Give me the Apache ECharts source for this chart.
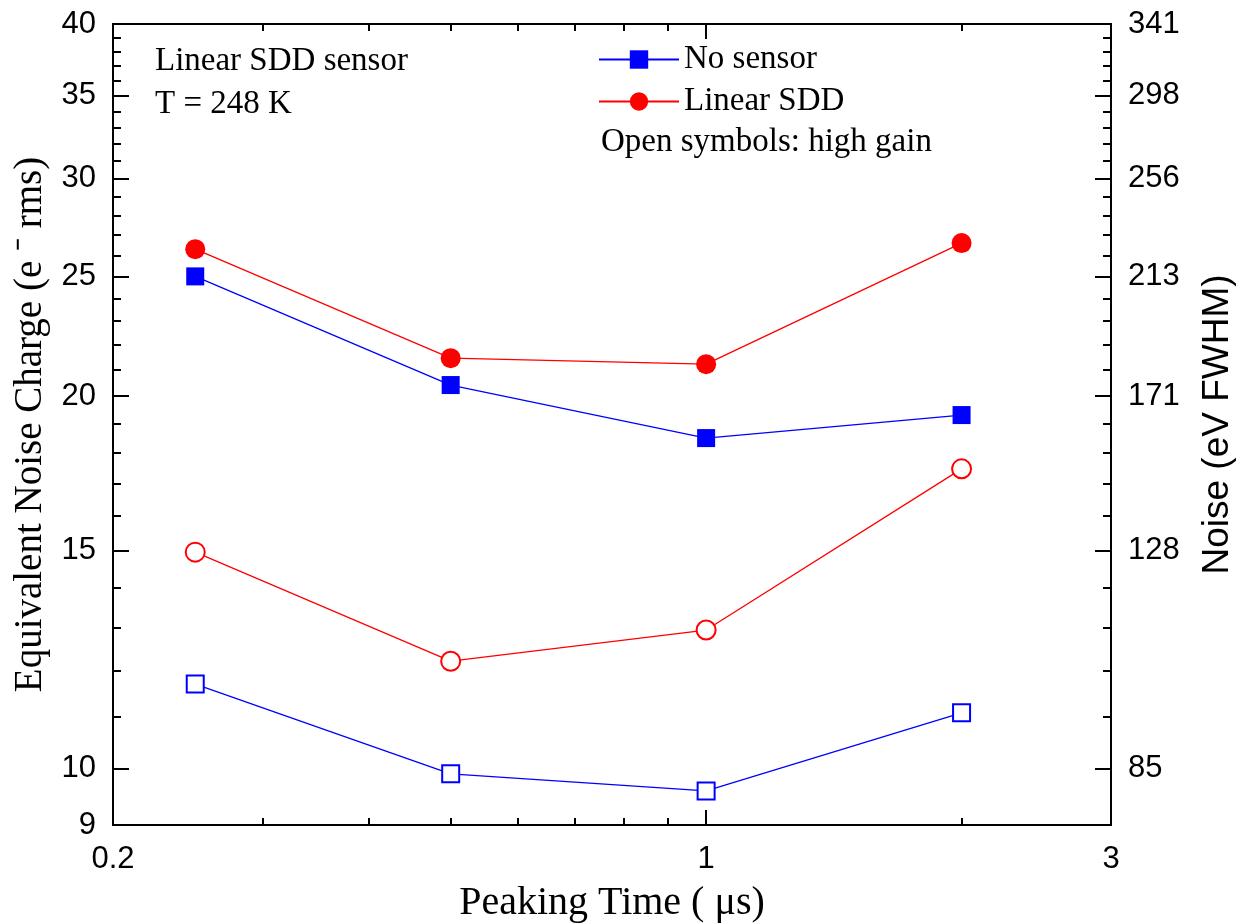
<!DOCTYPE html>
<html>
<head>
<meta charset="utf-8">
<script src="https://cdn.jsdelivr.net/npm/echarts@6/dist/echarts.min.js"></script>
<style>
html,body{margin:0;padding:0;background:#fff;}
#chart{width:1245px;height:924px;}
</style>
</head>
<body>
<div id="chart"></div>
<script>
// ---- data ----
const peakingTimes = [0.25, 0.5, 1, 2];
const noSensor = [25.0, 20.42, 18.5, 19.31];
const linearSDD = [26.3, 21.47, 21.23, 26.6];
const noSensorHighGain = [11.70, 9.90, 9.59, 11.09];
const linearSDDHighGain = [14.96, 12.21, 12.94, 17.47];

const xTickLabels = [0.2, 1, 3];
const xMajorTicks = [0.2, 1, 3];
const xMinorTicks = [0.3, 0.4, 0.5, 0.6, 0.7, 0.8, 0.9, 2];
const yTickLabels = [9, 10, 15, 20, 25, 30, 35, 40];
const yMajorTicks = [10, 15, 20, 25, 30, 35, 40];
const yMinorTicks = [11, 12, 13, 14, 16, 17, 18, 19, 21, 22, 23, 24, 26, 27, 28, 29, 31, 32, 33, 34, 36, 37, 38, 39];
const rightTickValues = [10, 15, 20, 25, 30, 35, 40];
const rightTickLabels = ['85', '128', '171', '213', '256', '298', '341'];

const xRange = [0.2, 3];
const yRange = [9, 40];

// ---- helpers ----
const L = v => Math.log10(v);
const pts = (xs, ys) => xs.map((x, i) => [L(x), L(ys[i])]);
function nearestLabel(v, vals, labels) {
  const real = Math.pow(10, v);
  let best = 0, bd = Infinity;
  vals.forEach((c, i) => { const d = Math.abs(c - real); if (d < bd) { bd = d; best = i; } });
  return String(labels[best]);
}

const serif = '"Liberation Serif", "Times New Roman", serif';
const sans = '"Liberation Sans", Arial, sans-serif';
const black = '#000';

function xAxisDef(pos, ticks, len, labels) {
  return {
    type: 'value', position: pos, min: L(xRange[0]), max: L(xRange[1]),
    splitLine: { show: false },
    axisLine: { show: true, onZero: false, lineStyle: { color: black, width: 2 } },
    axisTick: { show: true, inside: true, length: len, lineStyle: { color: black, width: 2 },
      customValues: ticks.map(L) },
    axisLabel: labels ? {
      show: true, customValues: labels.map(L), margin: 19, color: black,
      fontFamily: sans, fontSize: 31,
      formatter: v => nearestLabel(v, xTickLabels, xTickLabels)
    } : { show: false }
  };
}
function yAxisDef(pos, ticks, len, labelVals, labelTexts) {
  return {
    type: 'value', position: pos, min: L(yRange[0]), max: L(yRange[1]),
    splitLine: { show: false },
    axisLine: { show: true, onZero: false, lineStyle: { color: black, width: 2 } },
    axisTick: { show: true, inside: true, length: len, lineStyle: { color: black, width: 2 },
      customValues: ticks.map(L) },
    axisLabel: labelVals ? {
      show: true, customValues: labelVals.map(L), margin: 17, color: black,
      fontFamily: sans, fontSize: 31,
      formatter: v => nearestLabel(v, labelVals, labelTexts)
    } : { show: false }
  };
}

const xAxes = [
  Object.assign(xAxisDef('bottom', xMajorTicks, 15, xTickLabels), {
    name: 'Peaking Time ( \u03bcs)', nameLocation: 'middle', nameGap: 58,
    nameTextStyle: { fontFamily: serif, fontSize: 40, color: black }
  }),
  xAxisDef('bottom', xMinorTicks, 7, null),
  xAxisDef('top', xMajorTicks, 15, null),
  xAxisDef('top', xMinorTicks, 7, null)
];
const yAxes = [
  Object.assign(yAxisDef('left', yMajorTicks, 16, yTickLabels, yTickLabels), {
    name: 'Equivalent Noise Charge (e \u207b rms)', nameLocation: 'middle', nameGap: 62,
    nameTextStyle: { fontFamily: serif, fontSize: 39, color: black }
  }),
  yAxisDef('left', yMinorTicks, 8, null),
  Object.assign(yAxisDef('right', yMajorTicks, 16, rightTickValues, rightTickLabels), {
    name: 'Noise (eV FWHM)', nameLocation: 'middle', nameGap: 88,
    nameTextStyle: { fontFamily: sans, fontSize: 37, color: black }
  }),
  yAxisDef('right', yMinorTicks, 8, null)
];

function series(name, ys, color, symbol, size, open) {
  return {
    name: name, type: 'line', xAxisIndex: 0, yAxisIndex: 0,
    data: pts(peakingTimes, ys),
    symbol: symbol, symbolSize: size, showSymbol: true,
    lineStyle: { color: color, width: 1.3 },
    itemStyle: open ? { color: color, borderColor: color, borderWidth: 1.6 } : { color: color, borderWidth: 0 },
    emphasis: { disabled: true },
    z: 3
  };
}

const legendText = { fontFamily: serif, fontSize: 33, color: black };
const option = {
  animation: false,
  backgroundColor: '#fff',
  grid: { left: 113, right: 134, top: 24, bottom: 99, containLabel: false, outerBoundsMode: 'none' },
  xAxis: xAxes,
  yAxis: yAxes,
  legend: [
    { data: ['No sensor'], left: 593, top: 38, padding: 5, itemWidth: 80, itemHeight: 23, itemGap: 10,
      textStyle: legendText, selectedMode: false },
    { data: ['Linear SDD'], left: 593, top: 80, padding: 5, itemWidth: 80, itemHeight: 23, itemGap: 10,
      textStyle: legendText, selectedMode: false }
  ],
  graphic: [
    { type: 'text', left: 155, top: 45, style: { text: 'Linear SDD sensor', font: '33px ' + serif, fill: black } },
    { type: 'text', left: 155, top: 88, style: { text: 'T = 248 K', font: '33px ' + serif, fill: black } },
    { type: 'text', left: 601, top: 126, style: { text: 'Open symbols: high gain', font: '33px ' + serif, fill: black } }
  ],
  series: [
    series('No sensor', noSensor, '#0000ff', 'rect', 18, false),
    series('Linear SDD', linearSDD, '#ff0000', 'circle', 20, false),
    series('No sensor (high gain)', noSensorHighGain, '#0000ff', 'emptyRect', 17, true),
    series('Linear SDD (high gain)', linearSDDHighGain, '#ff0000', 'emptyCircle', 19, true)
  ]
};

const chart = echarts.init(document.getElementById('chart'), null, { renderer: 'canvas' });
chart.setOption(option);
</script>
</body>
</html>
